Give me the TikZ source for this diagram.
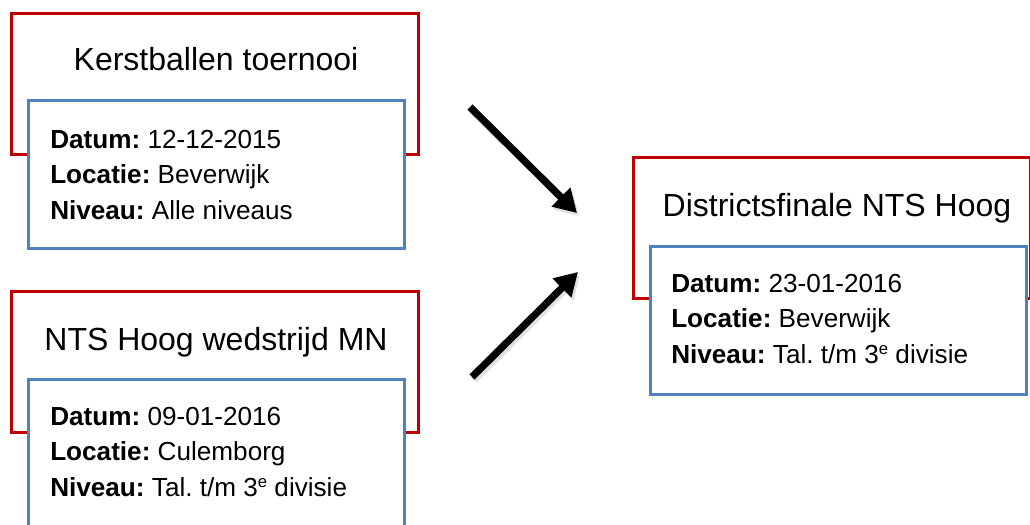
\documentclass[tikz,border=0pt]{standalone}
\usepackage{fontspec}
\setmainfont{Liberation Sans}
\usetikzlibrary{arrows.meta}
\definecolor{boxred}{HTML}{C00000}
\definecolor{boxblue}{HTML}{4F81BD}
\newcommand{\supe}{\raisebox{0.6ex}{\fontsize{12.5}{12.5}\selectfont e}}
\tikzset{
  redbox/.style={draw=boxred, line width=2.25pt, fill=white, inner sep=0pt,
    minimum width=305.25pt, minimum height=105.75pt},
  bluebox/.style={draw=boxblue, line width=2.25pt, fill=white, inner sep=0pt,
    minimum width=282pt, minimum height=111pt},
  titletext/.style={anchor=base, inner sep=0pt, font=\fontsize{24}{28}\selectfont},
  bodytext/.style={anchor=base west, inner sep=0pt, font=\frenchspacing\fontsize{19.6}{24}\selectfont},
  bigarrow/.style={line width=5.4pt, -{Triangle[length=17pt,width=19pt]}},
  arrowshadow/.style={line width=5.4pt, draw=black!20, opacity=0.6,
    -{Triangle[length=17pt,width=19pt]}}
}
\begin{document}
\begin{tikzpicture}[x=0.75pt,y=-0.75pt]
\useasboundingbox (0,0) rectangle (1030,524);
\begin{scope}
\clip (0,0) rectangle (1030,524);
% box A
\node[redbox] (ra) at (215,84) {};
\node[titletext] (ta) at (216,71) {Kerstballen toernooi};
\node[bluebox] (ba) at (216.5,174.5) {};
\node[bodytext] (a1) at (50,148) {\textbf{Datum:} 12-12-2015};
\node[bodytext] (a2) at (50,183.5) {\textbf{Locatie:} Beverwijk};
\node[bodytext] (a3) at (50,219) {\textbf{Niveau:} Alle niveaus};
% box B
\node[redbox] (rb) at (215,362) {};
\node[titletext] (tb) at (216,350.5) {NTS Hoog wedstrijd MN};
\node[bluebox] (bb) at (216.5,453.5) {};
\node[bodytext] (b1) at (50,425) {\textbf{Datum:} 09-01-2016};
\node[bodytext] (b2) at (50,460.5) {\textbf{Locatie:} Culemborg};
\node[bodytext] (b3) at (50,496) {\textbf{Niveau:} Tal. t/m 3\supe{} divisie};
% box C
\node[redbox, minimum width=297.75pt] (rc) at (832,228) {};
\node[titletext] (tc) at (837,216) {Districtsfinale NTS Hoog};
\node[bluebox] (bc) at (838.5,320) {};
\node[bodytext] (c1) at (671,292) {\textbf{Datum:} 23-01-2016};
\node[bodytext] (c2) at (671,327.5) {\textbf{Locatie:} Beverwijk};
\node[bodytext] (c3) at (671,363) {\textbf{Niveau:} Tal. t/m 3\supe{} divisie};
% arrows
\coordinate (s1) at (470,107);
\coordinate (e1) at (577,213);
\coordinate (s2) at (472,377);
\coordinate (e2) at (578,272);
\coordinate (s1s) at (472,110);
\coordinate (e1s) at (579,216);
\coordinate (s2s) at (474,380);
\coordinate (e2s) at (580,275);
\draw[arrowshadow] (s1s) -- (e1s);
\draw[arrowshadow] (s2s) -- (e2s);
\draw[bigarrow] (s1) -- (e1);
\draw[bigarrow] (s2) -- (e2);
\end{scope}
\end{tikzpicture}
\end{document}
